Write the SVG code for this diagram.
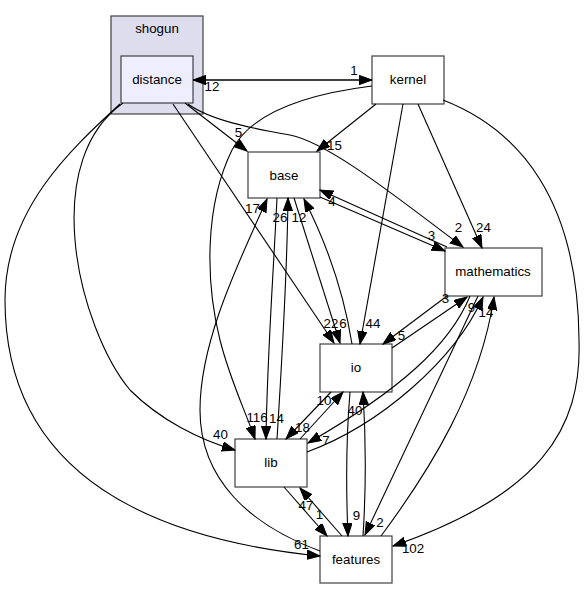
<svg xmlns="http://www.w3.org/2000/svg" width="584" height="589" viewBox="0 0 584 589">
<style>
.node rect{fill:#ffffff;stroke:#404040;stroke-width:1.2}
.t{font-family:"Liberation Sans",Arial,sans-serif;font-size:13.33px;fill:#000;text-anchor:middle}
.edges path{fill:none;stroke:#000;stroke-width:1.1;marker-end:url(#ah)}
.lbl{font-family:"Liberation Sans",Arial,sans-serif;font-size:13.33px;fill:#000;text-anchor:middle}
</style>
<defs>
<marker id="ah" markerUnits="userSpaceOnUse" markerWidth="14" markerHeight="10" refX="13" refY="4.7" orient="auto">
<path d="M0,0 L13,4.7 L0,9.4 z" fill="#000" stroke="#000" stroke-width="1"/>
</marker>
</defs>
<rect width="584" height="589" fill="#ffffff"/>
<g id="cluster_shogun">
<rect x="111" y="16" width="92" height="98" fill="#ddddee" stroke="#404040" stroke-width="1.2"/>
<text class="t" x="157" y="33">shogun</text>
</g>
<g id="node_distance" class="node">
<rect x="121" y="56" width="72" height="47" style="fill:#eeeeff"/>
<text class="t" x="157" y="84">distance</text>
</g>
<g id="node_kernel" class="node">
<rect x="372" y="56" width="72" height="48"/>
<text class="t" x="408" y="84">kernel</text>
</g>
<g id="node_base" class="node">
<rect x="248" y="152" width="72" height="46"/>
<text class="t" x="284" y="180">base</text>
</g>
<g id="node_mathematics" class="node">
<rect x="445" y="248" width="97" height="48"/>
<text class="t" x="493" y="276">mathematics</text>
</g>
<g id="node_io" class="node">
<rect x="320" y="344" width="72" height="48"/>
<text class="t" x="356" y="372">io</text>
</g>
<g id="node_lib" class="node">
<rect x="235" y="439" width="72" height="48"/>
<text class="t" x="271" y="467">lib</text>
</g>
<g id="node_features" class="node">
<rect x="320" y="536" width="72" height="47"/>
<text class="t" x="356" y="564">features</text>
</g>
<g id="connectors" class="edges">
<path d="M193,80 L372,80"/>
<path d="M372,80 L193,80"/>
<path d="M185,103 L247,151"/>
<path d="M376,104 L317,151"/>
<path d="M188,104 C210,120 250,128 290,135 C330,143 400,200 463,247"/>
<path d="M418,104 L482,248"/>
<path d="M403,104 L360,344"/>
<path d="M443,100 C520,130 578,200 579,340 C582,430 540,495 393,546"/>
<path d="M372,86 C300,95 250,115 232,150 C205,205 205,280 220,340 C230,380 245,410 255,439"/>
<path d="M173,104 L334,343"/>
<path d="M123,103 C85,130 70,180 75,240 C80,300 105,360 130,390 C160,420 200,440 235,450"/>
<path d="M120,104 C70,150 5,210 5,300 C5,480 160,540 320,556"/>
<path d="M277,198 C273,280 267,360 266,439"/>
<path d="M277,439 C282,360 287,280 288,198"/>
<path d="M294,198 L340,343"/>
<path d="M352,344 C345,300 330,250 304,199"/>
<path d="M320,551 C250,525 200,480 200,410 C200,340 240,260 267,199"/>
<path d="M331,392 L286,439"/>
<path d="M300,439 L343,392"/>
<path d="M350,392 C346,440 346,490 348,536"/>
<path d="M363,536 C366,490 366,440 363,392"/>
<path d="M284,487 L327,536"/>
<path d="M342,536 L300,488"/>
<path d="M447,296 L383,344"/>
<path d="M392,348 L467,297"/>
<path d="M470,296 C450,345 400,390 308,443"/>
<path d="M307,452 C380,425 455,360 483,297"/>
<path d="M478,296 L365,535"/>
<path d="M381,536 C430,470 480,390 494,297"/>
<path d="M320,197 L445,251"/>
<path d="M447,247 L320,190"/>
</g>
<g id="labels">
<text class="lbl" x="354" y="75">1</text>
<text class="lbl" x="212" y="91">12</text>
<text class="lbl" x="238.5" y="137">5</text>
<text class="lbl" x="334.5" y="150">15</text>
<text class="lbl" x="458.5" y="232">2</text>
<text class="lbl" x="483.5" y="232">24</text>
<text class="lbl" x="252.5" y="213">17</text>
<text class="lbl" x="280" y="222">26</text>
<text class="lbl" x="299" y="222">12</text>
<text class="lbl" x="332" y="206">4</text>
<text class="lbl" x="431.5" y="240">3</text>
<text class="lbl" x="445.5" y="303">3</text>
<text class="lbl" x="471.5" y="312">9</text>
<text class="lbl" x="486" y="317">14</text>
<text class="lbl" x="331" y="328">22</text>
<text class="lbl" x="343" y="328">6</text>
<text class="lbl" x="373" y="328">44</text>
<text class="lbl" x="401.5" y="340">5</text>
<text class="lbl" x="257" y="422">116</text>
<text class="lbl" x="276.5" y="423">14</text>
<text class="lbl" x="302.5" y="432">18</text>
<text class="lbl" x="220.5" y="439">40</text>
<text class="lbl" x="326" y="445">7</text>
<text class="lbl" x="324" y="405">10</text>
<text class="lbl" x="355" y="415">40</text>
<text class="lbl" x="306" y="510">47</text>
<text class="lbl" x="319.5" y="519">1</text>
<text class="lbl" x="356.5" y="520">9</text>
<text class="lbl" x="380" y="527">2</text>
<text class="lbl" x="301.5" y="549">61</text>
<text class="lbl" x="413" y="553">102</text>
</g>
</svg>
